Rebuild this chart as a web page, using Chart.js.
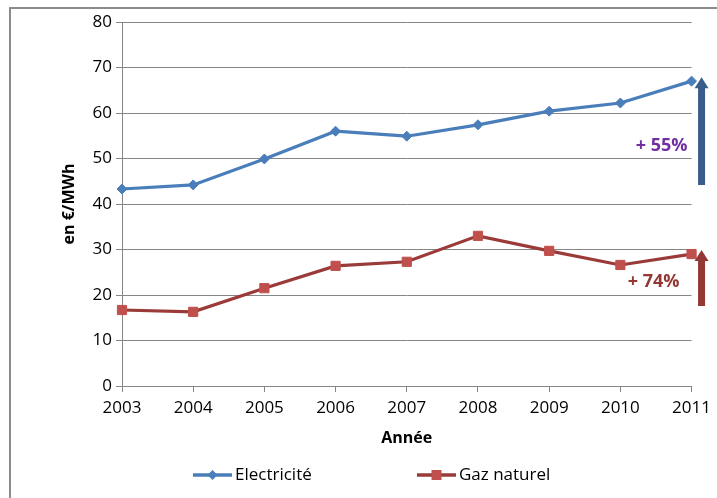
<!DOCTYPE html>
<html>
<head>
<meta charset="utf-8">
<script src="https://cdn.jsdelivr.net/npm/chart.js@4"></script>
<style>
  html, body { margin: 0; padding: 0; background: #fff; }
  #wrap { position: relative; width: 717px; height: 498px; }
  #frame { position: absolute; left: 9px; top: 7px; width: 720px; height: 500px;
           border-left: 2px solid #8c8c8c; border-top: 2px solid #8c8c8c; }
  canvas { position: absolute; left: 0; top: 0; }
</style>
</head>
<body>
<div id="wrap">
  <div id="frame"></div>
  <canvas id="prixChart" width="717" height="498"></canvas>
</div>
<script>
const annees = ['2003', '2004', '2005', '2006', '2007', '2008', '2009', '2010', '2011'];
const electricite = [43.3, 44.2, 49.9, 56.0, 54.9, 57.4, 60.4, 62.2, 67.0];
const gazNaturel = [16.7, 16.3, 21.5, 26.4, 27.3, 33.0, 29.7, 26.6, 29.0];
const hausses = ['+ 55%', '+ 74%'];

const police = "'Open Sans', 'Liberation Sans', sans-serif";
const gris = '#868686';

// arrows + percent labels on the right side
const flechesPlugin = {
  id: 'fleches',
  afterDatasetsDraw(chart) {
    const ctx = chart.ctx;
    const y = chart.scales.y;
    const x = chart.chartArea.right + 10;
    const items = [
      { serie: electricite, couleur: '#385d8a', texte: hausses[0], texteCouleur: '#7030a0', dx: -40, dy: 15 },
      { serie: gazNaturel, couleur: '#953735', texte: hausses[1], texteCouleur: '#953735', dx: -48, dy: 4 }
    ];
    items.forEach(it => {
      const yBas = y.getPixelForValue(it.serie[0]) - 4;
      const yHaut = y.getPixelForValue(it.serie[it.serie.length - 1]) - 4;
      ctx.save();
      ctx.fillStyle = it.couleur;
      ctx.fillRect(x - 3.5, yHaut + 9, 7, yBas - yHaut - 9);
      ctx.beginPath();
      ctx.moveTo(x, yHaut);
      ctx.lineTo(x + 7, yHaut + 11);
      ctx.lineTo(x - 7, yHaut + 11);
      ctx.closePath();
      ctx.fill();
      ctx.fillStyle = it.texteCouleur;
      ctx.font = 'bold 18px ' + police;
      ctx.textAlign = 'center';
      ctx.textBaseline = 'middle';
      ctx.fillText(it.texte, x + it.dx, (yBas + yHaut) / 2 + it.dy);
      ctx.restore();
    });
  }
};

// legend: line with marker in the middle, like the original
const legendePlugin = {
  id: 'legende',
  afterDraw(chart) {
    const ctx = chart.ctx;
    const positions = [193, 417];
    const yl = 475;
    chart.data.datasets.forEach((ds, i) => {
      const x0 = positions[i];
      ctx.save();
      ctx.strokeStyle = ds.borderColor;
      ctx.lineWidth = 3.5;
      ctx.beginPath();
      ctx.moveTo(x0, yl);
      ctx.lineTo(x0 + 39, yl);
      ctx.stroke();
      ctx.fillStyle = ds.pointBackgroundColor;
      const cx = x0 + 19.5;
      if (ds.pointStyle === 'rectRot') {
        ctx.beginPath();
        ctx.moveTo(cx, yl - 5); ctx.lineTo(cx + 5, yl); ctx.lineTo(cx, yl + 5); ctx.lineTo(cx - 5, yl);
        ctx.closePath(); ctx.fill();
      } else {
        ctx.fillRect(cx - 5, yl - 5, 10, 10);
      }
      ctx.fillStyle = '#000';
      ctx.font = '17px ' + police;
      ctx.textBaseline = 'middle';
      ctx.fillText(ds.label, x0 + 42, yl);
      ctx.restore();
    });
  }
};

new Chart(document.getElementById('prixChart'), {
  type: 'line',
  data: {
    labels: annees,
    datasets: [
      {
        label: 'Electricité',
        data: electricite,
        borderColor: '#4a7ebb',
        backgroundColor: '#4a7ebb',
        pointBackgroundColor: '#4a7ebb',
        pointBorderColor: '#4a7ebb',
        borderWidth: 3.2,
        pointStyle: 'rectRot',
        pointRadius: 5,
        pointBorderWidth: 1,
        tension: 0
      },
      {
        label: 'Gaz naturel',
        data: gazNaturel,
        borderColor: '#9b3b39',
        backgroundColor: '#c0504d',
        pointBackgroundColor: '#c0504d',
        pointBorderColor: '#c0504d',
        borderWidth: 3.2,
        pointStyle: 'rect',
        pointRadius: 6.5,
        pointBorderWidth: 1,
        tension: 0
      }
    ]
  },
  options: {
    responsive: false,
    animation: false,
    layout: { padding: { left: 0, right: 18, top: 22, bottom: 0 } },
    plugins: {
      legend: { display: false },
      tooltip: { enabled: false }
    },
    scales: {
      x: {
        offset: false,
        afterFit: s => { s.height = 112; },
        grid: { drawOnChartArea: false, color: gris, tickLength: 6 },
        border: { color: gris, width: 1 },
        ticks: { autoSkip: false, maxRotation: 0, color: '#000', padding: 6,
                 font: { family: police, size: 17 } },
        title: { display: true, text: 'Année', color: '#000',
                 font: { family: police, size: 16, weight: 'bold' }, padding: { bottom: 50 } }
      },
      y: {
        min: 0, max: 80,
        afterFit: s => { s.width = 122; },
        grid: { color: gris, tickLength: 6 },
        border: { color: gris, width: 1 },
        ticks: { stepSize: 10, color: '#000', padding: 4,
                 font: { family: police, size: 17 } },
        title: { display: true, text: 'en €/MWh', color: '#000',
                 font: { family: police, size: 16, weight: 'bold' }, padding: { top: 60 } }
      }
    }
  },
  plugins: [flechesPlugin, legendePlugin]
});
</script>
</body>
</html>
